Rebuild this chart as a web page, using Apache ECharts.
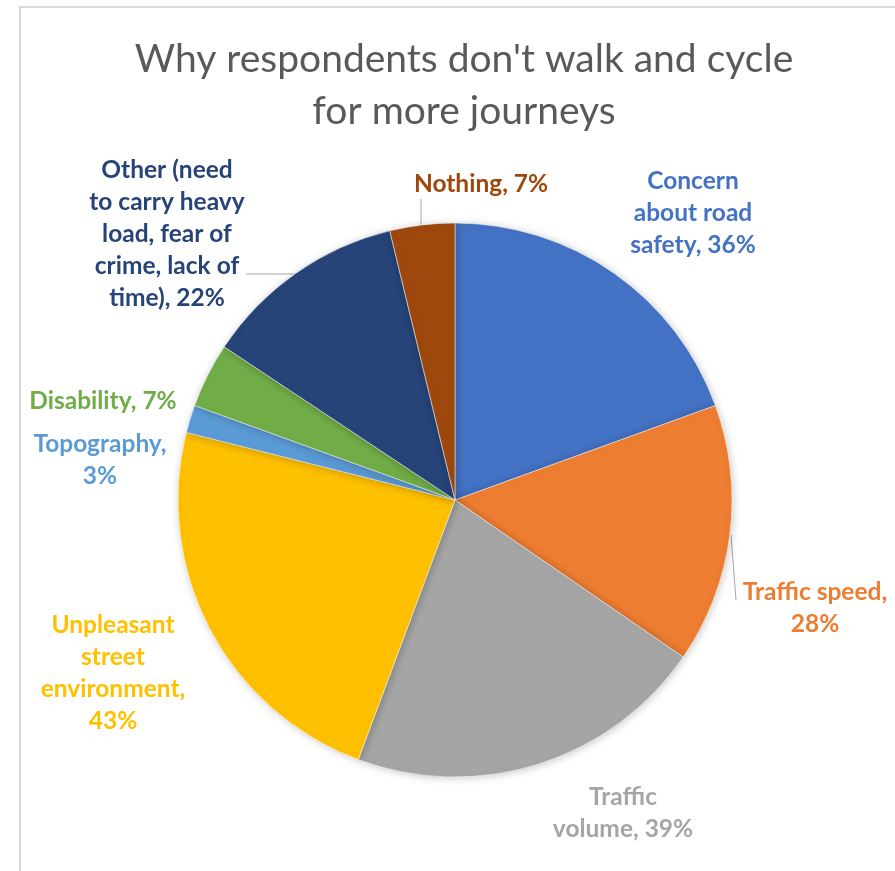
<!DOCTYPE html>
<html><head><meta charset="utf-8">
<script src="https://cdn.jsdelivr.net/npm/echarts@6/dist/echarts.min.js"></script>
<style>html,body{margin:0;padding:0;background:#fff}#c{width:895px;height:871px}</style>
</head><body><div id="c"></div>
<script>
const categories = [
  "Concern\nabout road\nsafety",
  "Traffic speed,",
  "Traffic\nvolume",
  "Unpleasant\nstreet\nenvironment,",
  "Topography,",
  "Disability",
  "Other (need\nto carry heavy\nload, fear of\ncrime, lack of\ntime)",
  "Nothing"
];
const values = [36, 28, 39, 43, 3, 7, 22, 7];
const colors = ["#4472C4", "#ED7D31", "#A5A5A5", "#FFC000", "#5B9BD5", "#70AD47", "#264478", "#9E480E"];
// label separators between name and value
const seps = [", ", "\n", ", ", "\n", "\n", ", ", ", ", ", "];
// label anchor centers
const labelPos = [[693, 213], [815, 608], [623, 813], [113, 673], [100, 460], [103, 401], [167, 234], [481, 184]];
const leaders = {
  1: [[731, 535], [736, 600]],
  6: [[296, 274], [246, 274]],
  7: [[421, 228], [421, 199]]
};

const chart = echarts.init(document.getElementById('c'));
chart.setOption({
  animation: false,
  title: {
    text: "Why respondents don't walk and cycle\nfor more journeys",
    left: 459, top: 28, textAlign: 'center',
    textStyle: { fontFamily: 'Lato', fontWeight: 'normal', fontSize: 39, lineHeight: 52, color: '#595959' }
  },
  graphic: [
    { type: 'line', shape: { x1: 20, y1: 7, x2: 20, y2: 871 }, style: { stroke: '#d9d9d9', lineWidth: 2 } },
    { type: 'line', shape: { x1: 19, y1: 7, x2: 895, y2: 7 }, style: { stroke: '#d9d9d9', lineWidth: 2 } }
  ],
  series: [{
    type: 'pie',
    center: [455, 500],
    radius: 277,
    startAngle: 90,
    clockwise: true,
    avoidLabelOverlap: false,
    itemStyle: { borderColor: '#ffffff', borderWidth: 0.5, shadowBlur: 8, shadowColor: 'rgba(0,0,0,0.22)', shadowOffsetX: 1, shadowOffsetY: 1 },
    label: {
      show: true,
      position: 'outside',
      fontFamily: 'Lato', fontWeight: 'bold', fontSize: 24.5, lineHeight: 32,
      align: 'center',
      formatter: p => categories[p.dataIndex] + seps[p.dataIndex] + values[p.dataIndex] + '%'
    },
    labelLine: { show: true, lineStyle: { color: '#a6a6a6', width: 1 }, smooth: false },
    labelLayout: function (params) {
      const i = params.dataIndex;
      const res = { x: labelPos[i][0], y: labelPos[i][1], align: 'center', verticalAlign: 'middle' };
      if (leaders[i]) res.labelLinePoints = leaders[i];
      return res;
    },
    data: categories.map((c, i) => ({
      name: c,
      value: values[i],
      itemStyle: { color: colors[i] },
      label: { color: colors[i] },
      labelLine: { show: !!leaders[i] }
    }))
  }]
});
</script>
</body></html>
